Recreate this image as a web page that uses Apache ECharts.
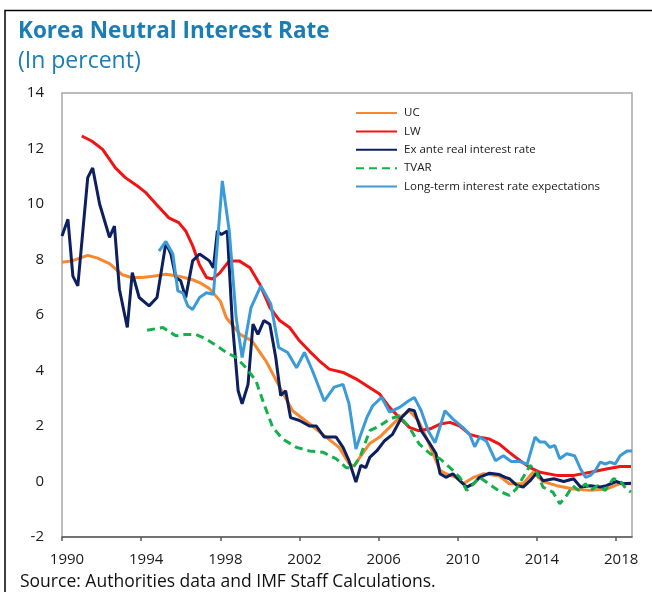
<!DOCTYPE html>
<html>
<head>
<meta charset="utf-8">
<script src="https://cdn.jsdelivr.net/npm/echarts@6/dist/echarts.min.js"></script>
<style>
  html, body { margin: 0; padding: 0; background: #fff; }
  #chart { width: 652px; height: 592px; }
</style>
</head>
<body>
<div id="chart"></div>
<script>
// [year, percent]
const ucData = [[1990.0,7.9],[1990.5,7.95],[1991.3,8.15],[1991.8,8.05],[1992.4,7.85],[1993.05,7.45],[1993.5,7.35],[1994.05,7.35],[1994.6,7.4],[1995.25,7.47],[1995.9,7.4],[1996.6,7.27],[1997.0,7.15],[1997.45,6.95],[1998.0,6.5],[1998.3,5.9],[1999.0,5.3],[1999.6,5.07],[2000.3,4.35],[2001.0,3.4],[2001.65,2.55],[2002.5,2.08],[2003.35,1.6],[2004.0,1.23],[2004.5,0.65],[2004.75,0.55],[2005.05,0.87],[2005.55,1.37],[2006.05,1.6],[2006.55,1.95],[2007.05,2.3],[2007.55,2.55],[2008.0,2.2],[2008.4,1.6],[2008.75,1.0],[2009.1,0.4],[2009.4,0.28],[2009.9,0.15],[2010.27,-0.08],[2010.8,0.15],[2011.3,0.28],[2011.6,0.25],[2012.1,0.2],[2012.6,-0.08],[2013.3,-0.08],[2013.8,0.33],[2014.3,0],[2015.0,-0.15],[2015.85,-0.27],[2016.7,-0.32],[2017.5,-0.27],[2018.2,-0.08],[2018.75,-0.08]];
const lwData = [[1991.0,12.45],[1991.5,12.27],[1992.05,11.97],[1992.7,11.3],[1993.2,10.95],[1993.9,10.6],[1994.25,10.4],[1994.75,10.0],[1995.4,9.5],[1995.9,9.33],[1996.25,9.03],[1996.6,8.5],[1996.95,7.8],[1997.3,7.35],[1997.6,7.3],[1997.95,7.5],[1998.45,7.95],[1998.95,7.95],[1999.5,7.7],[2000.0,7.1],[2000.5,6.27],[2001.0,5.8],[2001.5,5.55],[2002.0,5.07],[2002.5,4.7],[2003.0,4.35],[2003.5,4.05],[2004.2,3.93],[2004.85,3.7],[2005.4,3.45],[2006.05,3.15],[2006.55,2.67],[2007.05,2.3],[2007.55,1.95],[2008.0,1.83],[2008.6,1.9],[2009.1,2.07],[2009.6,2.13],[2010.1,2.0],[2010.6,1.7],[2011.1,1.6],[2011.6,1.53],[2012.1,1.35],[2012.6,1.05],[2013.15,0.75],[2013.65,0.5],[2014.15,0.33],[2015.0,0.22],[2015.85,0.22],[2016.7,0.33],[2017.5,0.45],[2018.2,0.54],[2018.75,0.54]];
const exAnteData = [[1990.0,8.85],[1990.3,9.45],[1990.55,7.4],[1990.8,7.05],[1991.3,10.95],[1991.55,11.3],[1991.9,10.0],[1992.4,8.8],[1992.65,9.2],[1992.9,6.93],[1993.3,5.55],[1993.55,7.53],[1993.9,6.63],[1994.4,6.33],[1994.8,6.63],[1995.0,7.5],[1995.25,8.6],[1995.5,8.2],[1995.75,7.35],[1996.0,7.23],[1996.25,6.63],[1996.6,7.95],[1996.95,8.2],[1997.45,7.95],[1997.65,7.7],[1997.85,9.03],[1998.05,8.9],[1998.35,9.03],[1998.6,5.8],[1998.9,3.27],[1999.1,2.8],[1999.4,3.5],[1999.65,5.67],[1999.9,5.3],[2000.2,5.8],[2000.5,5.67],[2000.8,4.47],[2001.05,3.1],[2001.3,3.27],[2001.55,2.3],[2002.0,2.2],[2002.5,2.0],[2002.85,2.0],[2003.25,1.6],[2003.85,1.6],[2004.2,1.23],[2004.5,0.75],[2004.85,-0.02],[2005.1,0.58],[2005.35,0.5],[2005.55,0.87],[2005.9,1.1],[2006.3,1.47],[2006.7,1.7],[2007.15,2.3],[2007.55,2.6],[2007.8,2.55],[2008.15,1.83],[2008.6,1.35],[2008.9,1.0],[2009.1,0.28],[2009.4,0.15],[2009.75,0.28],[2010.1,0.03],[2010.45,-0.2],[2010.8,-0.08],[2011.1,0.15],[2011.6,0.3],[2012.1,0.25],[2012.4,0.15],[2012.6,0.1],[2013.0,-0.15],[2013.3,-0.2],[2013.65,0.03],[2014.0,0.33],[2014.3,0.03],[2014.85,0.1],[2015.35,0],[2015.85,0.1],[2016.2,-0.2],[2016.7,-0.15],[2017.2,-0.2],[2017.5,-0.15],[2018.0,0],[2018.35,-0.08],[2018.75,-0.06]];
const tvarData = [[1994.3,5.45],[1994.7,5.5],[1995.1,5.55],[1995.75,5.25],[1996.25,5.3],[1996.75,5.3],[1997.3,5.13],[1997.95,4.83],[1998.3,4.65],[1998.8,4.47],[1999.3,4.1],[1999.8,3.63],[2000.2,2.8],[2000.65,1.95],[2001.15,1.53],[2001.85,1.23],[2002.5,1.1],[2003.2,1.05],[2003.85,0.82],[2004.35,0.5],[2004.7,0.5],[2005.05,0.87],[2005.3,1.35],[2005.55,1.83],[2006.05,2.0],[2006.55,2.25],[2007.05,2.37],[2007.55,1.95],[2008.05,1.35],[2008.6,1.0],[2009.1,0.82],[2009.6,0.5],[2010.1,0.15],[2010.45,-0.32],[2010.8,-0.08],[2011.1,0.15],[2011.6,-0.1],[2012.1,-0.35],[2012.6,-0.5],[2012.95,-0.27],[2013.3,0.15],[2013.65,0.58],[2014.0,0.33],[2014.3,-0.2],[2014.8,-0.38],[2015.15,-0.8],[2015.5,-0.5],[2015.8,-0.15],[2016.1,-0.32],[2016.45,-0.08],[2016.7,-0.32],[2017.05,-0.15],[2017.45,-0.32],[2017.85,0.1],[2018.2,0.03],[2018.5,-0.27],[2018.75,-0.38]];
const longTermData = [[1994.9,8.3],[1995.25,8.65],[1995.6,8.2],[1995.85,6.87],[1996.1,6.8],[1996.35,6.33],[1996.6,6.2],[1996.95,6.63],[1997.3,6.8],[1997.65,6.75],[1998.1,10.83],[1998.45,9.03],[1998.8,5.9],[1999.1,4.47],[1999.55,6.27],[2000.05,7.05],[2000.55,6.4],[2000.95,4.83],[2001.4,4.65],[2001.85,4.1],[2002.25,4.65],[2002.65,4.0],[2003.25,2.9],[2003.75,3.4],[2004.2,3.5],[2004.5,2.8],[2004.85,1.17],[2005.1,1.7],[2005.4,2.3],[2005.7,2.73],[2006.15,3.03],[2006.55,2.5],[2007.05,2.67],[2007.5,2.9],[2007.8,3.03],[2008.15,2.55],[2008.5,1.83],[2008.85,1.4],[2009.35,2.55],[2009.75,2.25],[2010.25,1.95],[2010.6,1.7],[2010.85,1.25],[2011.1,1.6],[2011.45,1.45],[2011.9,0.75],[2012.3,0.93],[2012.7,0.72],[2013.15,0.72],[2013.5,0.62],[2013.9,1.6],[2014.15,1.42],[2014.4,1.42],[2014.65,1.23],[2014.9,1.3],[2015.15,0.82],[2015.5,1.0],[2015.9,0.93],[2016.2,0.45],[2016.45,0.15],[2016.7,0.22],[2016.95,0.4],[2017.2,0.7],[2017.45,0.63],[2017.7,0.7],[2017.95,0.63],[2018.2,0.93],[2018.55,1.1],[2018.8,1.1]];

const seriesNames = ['UC', 'LW', 'Ex ante real interest rate', 'TVAR', 'Long-term interest rate expectations'];
const xTickYears = [1990, 1994, 1998, 2002, 2006, 2010, 2014, 2018];

const font = '"Open Sans", "Noto Sans", sans-serif';
const chart = echarts.init(document.getElementById('chart'));

function line (name, data, color, z, dashed) {
  return {
    name: name,
    type: 'line',
    data: data,
    symbol: 'none',
    z: z,
    lineStyle: { color: color, width: 3, type: dashed ? [8, 5] : 'solid' },
    itemStyle: { color: color }
  };
}

chart.setOption({
  animation: false,
  backgroundColor: '#fff',
  textStyle: { fontFamily: font },
  grid: { left: 62, top: 93, right: 20, bottom: 55, show: true, borderColor: '#a6a6a6', borderWidth: 1.5 },
  legend: {
    orient: 'vertical',
    left: 350,
    top: 102,
    itemWidth: 41,
    itemHeight: 12,
    itemGap: 6.4,
    data: seriesNames,
    itemStyle: { opacity: 0 },
    textStyle: { fontSize: 11.5, color: '#1a1a1a', fontFamily: font, padding: [0, 0, 0, 2] }
  },
  xAxis: [{
    type: 'value',
    min: 1990,
    max: 2018.8,
    axisLine: { show: false },
    axisTick: { show: false },
    splitLine: { show: false },
    axisLabel: { customValues: xTickYears, formatter: v => String(v), fontSize: 15, color: '#1a1a1a', margin: 15, padding: [0, 0, 0, 10] }
  }, {
    type: 'value',
    min: 1990,
    max: 2018.8,
    position: 'bottom',
    axisLine: { onZero: true, lineStyle: { color: '#595959', width: 1.5 } },
    axisTick: { customValues: xTickYears, length: 4, lineStyle: { color: '#595959', width: 1.5 } },
    axisLabel: { show: false },
    splitLine: { show: false }
  }],
  yAxis: {
    type: 'value',
    min: -2,
    max: 14,
    interval: 2,
    axisLine: { show: false },
    axisTick: { show: false },
    splitLine: { show: false },
    axisLabel: { fontSize: 15, color: '#1a1a1a', margin: 18 }
  },
  series: [
    line(seriesNames[0], ucData, '#f7882f', 2),
    line(seriesNames[1], lwData, '#f01414', 2),
    line(seriesNames[2], exAnteData, '#0c1f5e', 3),
    line(seriesNames[3], tvarData, '#14b04c', 5, true),
    line(seriesNames[4], longTermData, '#3a9bd8', 4)
  ],
  graphic: [
    { type: 'polyline', shape: { points: [[5, 592], [5, 10.5], [652, 10.5]] }, style: { stroke: '#000', lineWidth: 1.5, fill: null } },
    { type: 'text', left: 18, top: 20, style: { text: 'Korea Neutral Interest Rate', fill: '#1a7db5', font: 'bold 22.5px ' + font } },
    { type: 'text', left: 18, top: 50, style: { text: '(In percent)', fill: '#1a7db5', font: '23px ' + font } },
    { type: 'text', left: 20, top: 573, style: { text: 'Source: Authorities data and IMF Staff Calculations.', fill: '#111', font: '17.5px ' + font } }
  ]
});
</script>
</body>
</html>
